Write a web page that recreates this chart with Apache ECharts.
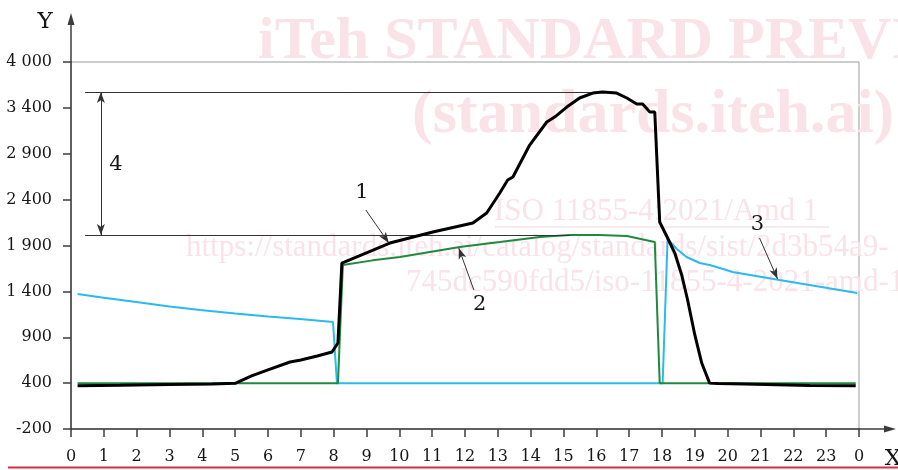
<!DOCTYPE html>
<html>
<head>
<meta charset="utf-8">
<script src="https://cdn.jsdelivr.net/npm/echarts@6/dist/echarts.min.js"></script>
<style>
  html, body { margin: 0; padding: 0; background: #ffffff; }
  #chart { width: 898px; height: 470px; }
</style>
</head>
<body>
<div id="chart"></div>
<script>
// Y tick labels (evenly spaced on the axis, values are not evenly stepped)
const yTickLabels = [-200, 400, 900, 1400, 1900, 2400, 2900, 3400, 4000];
// X tick labels: hour of day, 0 .. 23 and back to 0
const xTickLabels = [0, 1, 2, 3, 4, 5, 6, 7, 8, 9, 10, 11, 12, 13, 14, 15, 16, 17, 18, 19, 20, 21, 22, 23, 0];

// Curve 1 (black)
const curve1Hours  = [0.2, 1.5, 3.0, 4.3, 5.0, 5.5, 6.0, 6.67, 7.0, 7.5, 7.95, 8.13, 8.25, 9.71, 11.02, 12.24, 12.66, 13.06, 13.3, 13.46, 13.73, 13.97, 14.49, 14.73, 15.1, 15.49, 15.89, 16.19, 16.62, 16.93, 17.23, 17.41, 17.63, 17.78, 17.93, 18.16, 18.39, 18.6, 18.78, 19.0, 19.21, 19.45, 19.7, 20.5, 21.5, 22.5, 23.9];
const curve1Values = [365, 372, 382, 390, 397, 478, 545, 630, 652, 695, 739, 837, 1709, 1927, 2047, 2145, 2254, 2472, 2614, 2647, 2832, 2995, 3246, 3300, 3411, 3529, 3594, 3608, 3594, 3529, 3451, 3451, 3355, 3355, 2156, 1990, 1818, 1579, 1306, 925, 619, 400, 395, 388, 378, 368, 365];

// Curve 2 (green)
const curve2Hours  = [0.2, 8.13, 8.28, 9.19, 10.02, 11.84, 13.06, 14.28, 15.19, 16.1, 16.93, 17.78, 17.93, 23.9];
const curve2Values = [400, 400, 1687, 1738, 1775, 1884, 1938, 1993, 2014, 2014, 2003, 1938, 400, 400];

// Curve 3 (cyan)
const curve3Hours  = [0.2, 1.0, 2.1, 3.0, 3.93, 5.0, 6.0, 6.97, 7.98, 8.1, 18.02, 18.17, 18.45, 18.75, 19.15, 19.45, 19.76, 20.15, 21.58, 23.95];
const curve3Values = [1371, 1331, 1279, 1235, 1197, 1159, 1126, 1099, 1066, 400, 400, 1971, 1862, 1775, 1709, 1687, 1655, 1611, 1524, 1382];

// Map a value onto the tick-index scale used by the y axis
function toIdx(v) {
  for (let i = 0; i < yTickLabels.length - 1; i++) {
    const a = yTickLabels[i], b = yTickLabels[i + 1];
    if (v <= b || i === yTickLabels.length - 2) return i + (v - a) / (b - a);
  }
}
function pairs(hs, vs) { return hs.map((h, i) => [h, toIdx(vs[i])]); }

const fmtThousands = v => {
  const s = String(Math.abs(v));
  const t = s.length > 3 ? s.slice(0, s.length - 3) + ' ' + s.slice(-3) : s;
  return (v < 0 ? '-' : '') + t;
};

const peak = Math.max(...curve1Values);
const plateau = Math.max(...curve2Values);

const SERIF = '"DejaVu Serif", "Liberation Serif", serif';
const INK = '#161616';
const AXIS = '#3c3c3c';

const endArrow = (coord) => ({ coord, symbol: 'arrow', symbolSize: [6, 11] });
const plainEnd = (coord) => ({ coord, symbol: 'none' });

const option = {
  animation: false,
  backgroundColor: '#ffffff',
  grid: {
    left: 71, right: 39, top: 62, bottom: 41,
    show: true, borderColor: '#9a9a9a', borderWidth: 1, backgroundColor: 'transparent'
  },
  xAxis: {
    type: 'value', min: 0, max: 24, interval: 1,
    axisLine: { show: true, lineStyle: { color: AXIS, width: 1.5 } },
    axisTick: { show: true, length: 8, lineStyle: { color: AXIS, width: 1.5 } },
    axisLabel: {
      margin: 20, color: INK, fontFamily: SERIF, fontSize: 16,
      formatter: v => String(xTickLabels[Math.round(v)])
    },
    splitLine: { show: false }
  },
  yAxis: {
    type: 'value', min: 0, max: 8, interval: 1,
    axisLine: { show: true, lineStyle: { color: AXIS, width: 1.5 } },
    axisTick: { show: true, length: 8, lineStyle: { color: AXIS, width: 1.5 } },
    axisLabel: {
      margin: 19, color: INK, fontFamily: SERIF, fontSize: 16,
      formatter: v => fmtThousands(yTickLabels[Math.round(v)])
    },
    splitLine: { show: false }
  },
  series: [
    {
      name: '3', type: 'line', showSymbol: false, silent: true, z: 3,
      data: pairs(curve3Hours, curve3Values),
      lineStyle: { color: '#2cb9ee', width: 2 }
    },
    {
      name: '2', type: 'line', showSymbol: false, silent: true, z: 4,
      data: pairs(curve2Hours, curve2Values),
      lineStyle: { color: '#1f8a3e', width: 2 }
    },
    {
      name: '1', type: 'line', showSymbol: false, silent: true, z: 5,
      data: pairs(curve1Hours, curve1Values),
      lineStyle: { color: '#000000', width: 3 },
      markLine: {
        silent: true, animation: false,
        symbol: ['none', 'none'],
        label: { show: false },
        lineStyle: { color: '#333333', width: 1, type: 'solid' },
        emphasis: { disabled: true },
        data: [
          [plainEnd([0.43, toIdx(peak)]), plainEnd([16.32, toIdx(peak)])],
          [plainEnd([0.43, toIdx(plateau)]), plainEnd([15.19, toIdx(plateau)])],
          [endArrow([0.91, toIdx(plateau)]), endArrow([0.91, toIdx(peak)])],
          [plainEnd([8.98, toIdx(2287)]), endArrow([9.68, toIdx(1927)])],
          [plainEnd([12.27, toIdx(1415)]), endArrow([11.81, toIdx(1872)])],
          [plainEnd([20.97, toIdx(1982)]), endArrow([21.52, toIdx(1535)])]
        ]
      },
      markPoint: {
        silent: true, animation: false,
        symbol: 'circle', symbolSize: 0,
        label: { show: true, position: 'inside', formatter: '{b}', color: INK, fontFamily: SERIF, fontSize: 21 },
        data: [
          { name: '1', coord: [8.86, toIdx(2472)] },
          { name: '2', coord: [12.45, toIdx(1251)] },
          { name: '3', coord: [20.91, toIdx(2123)] },
          { name: '4', coord: [1.37, toIdx(2777)] }
        ]
      }
    }
  ]
};

const chart = echarts.init(document.getElementById('chart'), null, { renderer: 'canvas' });
chart.setOption(option);

// Axis extensions with arrow heads, axis letters, background lettering and page rule
const o = chart.convertToPixel({ gridIndex: 0 }, [0, 0]);
const t = chart.convertToPixel({ gridIndex: 0 }, [24, 8]);
const PINK = '#fae2e9';
const wm = (text, x, y, font) => ({
  type: 'text', z: 0, silent: true,
  style: { text, x, y, fill: PINK, font, align: 'left', verticalAlign: 'middle' }
});

chart.setOption({
  graphic: [
    wm('iTeh STANDARD PREVIEW', 258, 42, 'bold 60px "Liberation Serif", serif'),
    wm('(standards.iteh.ai)', 412, 116, 'bold 62px "Liberation Serif", serif'),
    wm('ISO 11855-4:2021/Amd 1', 494, 212, '31px "Liberation Serif", serif'),
    { type: 'line', z: 0, silent: true, shape: { x1: 495, y1: 227, x2: 829, y2: 227 }, style: { stroke: PINK, lineWidth: 1.5 } },
    wm('https://standards.iteh.ai/catalog/standards/sist/2d3b54a9-', 186, 248, '31px "Liberation Serif", serif'),
    wm('745dc590fdd5/iso-11855-4-2021-amd-1', 406, 283, '31px "Liberation Serif", serif'),

    { type: 'line', z: 10, silent: true, shape: { x1: o[0], y1: t[1], x2: o[0], y2: 22 }, style: { stroke: AXIS, lineWidth: 1.5 } },
    { type: 'polygon', z: 10, silent: true, shape: { points: [[o[0], 13], [o[0] - 3.5, 25], [o[0] + 3.5, 25]] }, style: { fill: AXIS } },
    { type: 'line', z: 10, silent: true, shape: { x1: t[0], y1: o[1], x2: 886, y2: o[1] }, style: { stroke: AXIS, lineWidth: 1.5 } },
    { type: 'polygon', z: 10, silent: true, shape: { points: [[896, o[1]], [884, o[1] - 3.5], [884, o[1] + 3.5]] }, style: { fill: AXIS } },

    { type: 'text', z: 10, silent: true, style: { text: 'Y', x: 45, y: 22, fill: INK, font: '23px ' + SERIF, align: 'center', verticalAlign: 'middle' } },
    { type: 'text', z: 10, silent: true, style: { text: 'X', x: 893, y: 459, fill: INK, font: '23px ' + SERIF, align: 'center', verticalAlign: 'middle' } },

    { type: 'line', z: 10, silent: true, shape: { x1: 8, y1: 467.5, x2: 898, y2: 467.5 }, style: { stroke: '#d2303c', lineWidth: 2 } }
  ]
});
</script>
</body>
</html>
